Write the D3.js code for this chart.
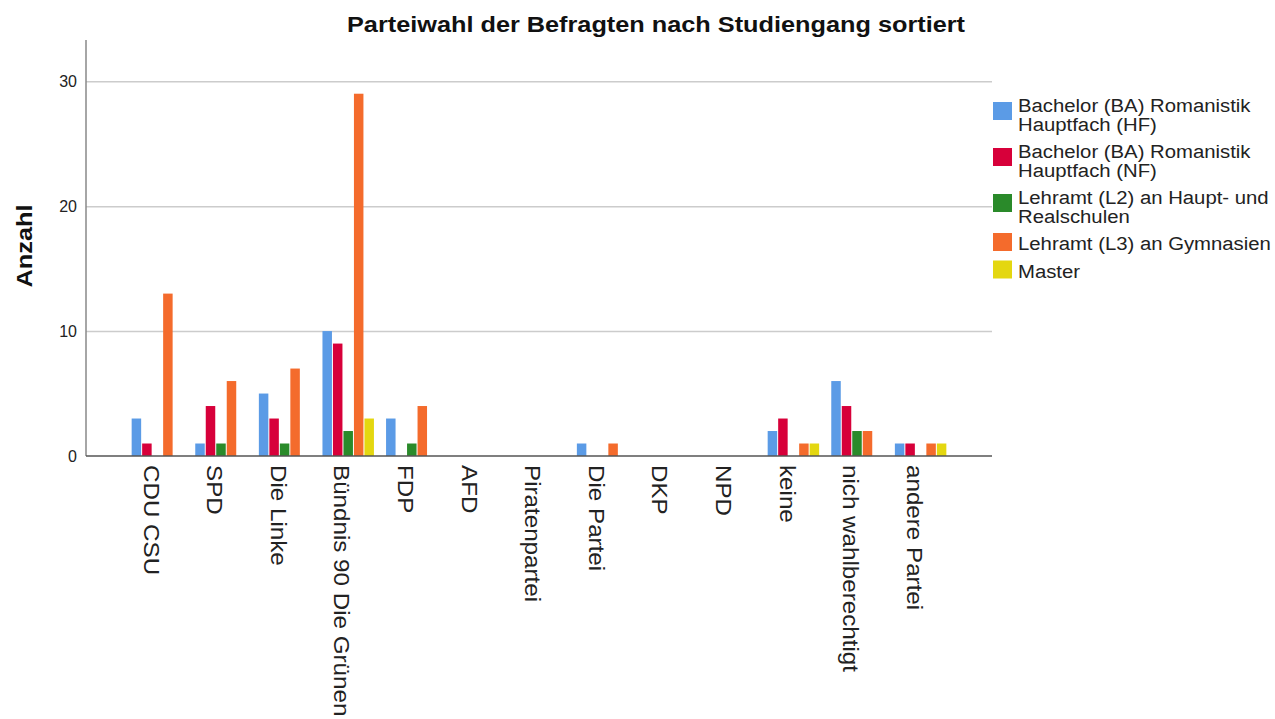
<!DOCTYPE html>
<html lang="de">
<head>
<meta charset="utf-8">
<title>Parteiwahl der Befragten nach Studiengang sortiert</title>
<script src="https://d3js.org/d3.v7.min.js"></script>
<style type="text/css">
body {
	margin: 0;
	background-color: #ffffff;
	font-family: "Liberation Sans", Arial, sans-serif;
}
.axis text {
	font-family: "Liberation Sans", Arial, sans-serif;
	font-size: 16px;
	fill: #222;
}
.grid line {
	stroke: #cccccc;
	stroke-width: 1.5;
}
</style>
</head>
<body>
<script type="text/javascript">

// categories (x axis)
var categories = ["CDU CSU", "SPD", "Die Linke", "Bündnis 90 Die Grünen", "FDP", "AFD",
  "Piratenpartei", "Die Partei", "DKP", "NPD", "keine", "nich wahlberechtigt", "andere Partei"];

// series (legend)
var seriesNames = [
  ["Bachelor (BA) Romanistik", "Hauptfach (HF)"],
  ["Bachelor (BA) Romanistik", "Hauptfach (NF)"],
  ["Lehramt (L2) an Haupt- und", "Realschulen"],
  ["Lehramt (L3) an Gymnasien"],
  ["Master"]
];
var seriesColors = ["#5b9be6", "#d7003a", "#2a8a2a", "#f46b2c", "#e4d710"];

// counts per series, same order as categories
var baHF = [3, 1, 5, 10, 3, 0, 0, 1, 0, 0, 2, 6, 1];
var baNF = [1, 4, 3, 9, 0, 0, 0, 0, 0, 0, 3, 4, 1];
var l2   = [0, 1, 1, 2, 1, 0, 0, 0, 0, 0, 0, 2, 0];
var l3   = [13, 6, 7, 29, 4, 0, 0, 1, 0, 0, 1, 2, 1];
var master = [0, 0, 0, 3, 0, 0, 0, 0, 0, 0, 1, 0, 1];

var yTicks = [0, 10, 20, 30];

var seriesValues = [baHF, baNF, l2, l3, master];

var width = 1275;
var height = 719;

// plot area
var plotLeft = 86, plotRight = 992, plotTop = 40, plotBottom = 456;

var svg = d3.select("body")
  .append("svg")
  .attr("width", width)
  .attr("height", height);

var x0 = d3.scaleBand()
  .domain(categories)
  .range([plotLeft, plotRight])
  .paddingInner(0.175)
  .paddingOuter(0.71);

var x1 = d3.scaleBand()
  .domain(d3.range(seriesValues.length))
  .range([0, x0.bandwidth()]);

var y = d3.scaleLinear()
  .domain([0, 33.3])
  .range([plotBottom, plotTop]);

// gridlines
svg.append("g")
  .attr("class", "grid")
  .attr("transform", "translate(" + plotLeft + ",0)")
  .call(d3.axisLeft(y).tickValues(yTicks.filter(function(d) { return d > 0; }))
    .tickSize(-(plotRight - plotLeft)).tickFormat(""))
  .call(function(g) { g.select(".domain").remove(); });

// bars
var rows = [];
categories.forEach(function(c, i) {
  seriesValues.forEach(function(s, j) {
    if (s[i] > 0) rows.push({cat: c, s: j, v: s[i]});
  });
});

svg.append("g")
  .selectAll("rect")
  .data(rows)
  .enter()
  .append("rect")
  .attr("x", function(d) { return x0(d.cat) + x1(d.s) + 0.5; })
  .attr("y", function(d) { return y(d.v); })
  .attr("width", x1.bandwidth() - 1)
  .attr("height", function(d) { return y(0) - y(d.v); })
  .style("fill", function(d) { return seriesColors[d.s]; });

// y axis
var yAxis = svg.append("g")
  .attr("class", "axis")
  .attr("transform", "translate(" + plotLeft + ",0)")
  .call(d3.axisLeft(y).tickValues(yTicks).tickSize(0).tickPadding(9));
yAxis.select(".domain").remove();

svg.append("line")
  .attr("x1", plotLeft).attr("x2", plotLeft)
  .attr("y1", plotTop).attr("y2", plotBottom)
  .style("stroke", "#888").style("stroke-width", 1.5);

// x axis
svg.append("line")
  .attr("x1", plotLeft).attr("x2", plotRight)
  .attr("y1", plotBottom).attr("y2", plotBottom)
  .style("stroke", "#555").style("stroke-width", 1.5);

svg.append("g")
  .selectAll("text")
  .data(categories)
  .enter()
  .append("text")
  .attr("transform", function(d) {
    return "translate(" + (x0(d) + x0.bandwidth() / 2 - 6) + "," + (plotBottom + 9) + ") rotate(90) scale(1.1,1)";
  })
  .attr("dy", "0.35em")
  .style("font-size", "22px")
  .style("fill", "#222")
  .text(function(d) { return d; });

// title
svg.append("text")
  .attr("transform", "translate(656,32) scale(1.15,1)")
  .attr("text-anchor", "middle")
  .style("font-size", "22px")
  .style("font-weight", "bold")
  .style("fill", "#111")
  .text("Parteiwahl der Befragten nach Studiengang sortiert");

// y title
svg.append("text")
  .attr("transform", "translate(32,246) rotate(-90) scale(1.15,1)")
  .attr("text-anchor", "middle")
  .style("font-size", "22px")
  .style("font-weight", "bold")
  .style("fill", "#111")
  .text("Anzahl");

// legend
var lineH = 18.5;
var baseY = 112;
var legend = svg.append("g");
seriesNames.forEach(function(lines, i) {
  legend.append("rect")
    .attr("x", 993)
    .attr("y", baseY - 17 + (lines.length - 1) * 7)
    .attr("width", 19)
    .attr("height", 18)
    .style("fill", seriesColors[i]);
  lines.forEach(function(t, k) {
    legend.append("text")
      .attr("transform", "translate(1018," + (baseY + k * lineH) + ") scale(1.07,1)")
      .style("font-size", "19px")
      .style("fill", "#222")
      .text(t);
  });
  baseY += lines.length * lineH + 9;
});

</script>
</body>
</html>
